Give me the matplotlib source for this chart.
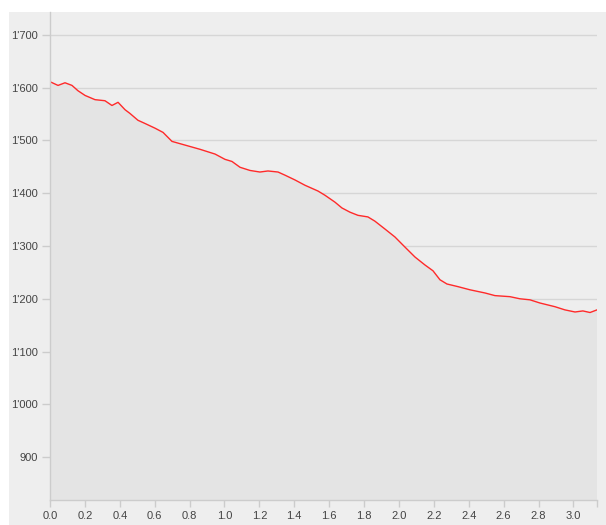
import matplotlib
matplotlib.use('Agg')

import matplotlib.pyplot as plt
from matplotlib.patches import Rectangle
from matplotlib.ticker import FuncFormatter

plt.rcParams['font.family'] = ['Liberation Sans', 'DejaVu Sans']

# distance (x) and elevation (y)
dist = [0.000, 0.046, 0.086, 0.126, 0.160, 0.201, 0.258, 0.315, 0.355, 0.390,
        0.430, 0.458, 0.504, 0.544, 0.602, 0.648, 0.699, 0.774, 0.860, 0.946,
        1.003, 1.043, 1.089, 1.146, 1.203, 1.249, 1.307, 1.347, 1.404, 1.461,
        1.536, 1.576, 1.633, 1.673, 1.719, 1.765, 1.822, 1.862, 1.920, 1.977,
        2.034, 2.092, 2.149, 2.195, 2.235, 2.275, 2.338, 2.407, 2.493, 2.550,
        2.636, 2.693, 2.751, 2.808, 2.894, 2.951, 3.009, 3.054, 3.095, 3.135]
elev = [1611, 1604, 1609, 1604, 1594, 1585, 1577, 1575, 1566, 1572,
        1558, 1551, 1538, 1532, 1523, 1515, 1498, 1491, 1483, 1474,
        1464, 1460, 1449, 1443, 1440, 1442, 1440, 1434, 1425, 1415,
        1404, 1396, 1383, 1372, 1364, 1358, 1355, 1347, 1332, 1317,
        1298, 1279, 1264, 1253, 1236, 1228, 1223, 1217, 1211, 1206,
        1204, 1200, 1198, 1192, 1185, 1179, 1175, 1177, 1174, 1179]

y_ticks = [900, 1000, 1100, 1200, 1300, 1400, 1500, 1600, 1700]
x_ticks = [0.0, 0.2, 0.4, 0.6, 0.8, 1.0, 1.2, 1.4, 1.6, 1.8, 2.0, 2.2, 2.4, 2.6, 2.8, 3.0]

W, H = 606, 525
fig = plt.figure(figsize=(W / 100, H / 100), dpi=100, facecolor='white')
fig.patches.append(Rectangle((9 / W, 0), 1, 1 - 12 / H, transform=fig.transFigure,
                             facecolor='#eeeeee', edgecolor='none', zorder=-5))

ax = fig.add_axes([50 / W, (H - 500) / H, (597 - 50) / W, (500 - 12) / H])
ax.set_facecolor('#eeeeee')

ax.fill_between(dist, elev, 0, color='#e4e4e4', zorder=2, linewidth=0)
ax.plot(dist, elev, color='#ff2a2a', linewidth=1.0, zorder=3)

ax.set_xlim(0, 3.135)
ax.set_ylim(819, 1743)
ax.set_yticks(y_ticks)
ax.set_xticks(x_ticks + [3.135])
ax.set_xticklabels(['%.1f' % t for t in x_ticks] + [''])
ax.yaxis.set_major_formatter(FuncFormatter(lambda v, p: '{:,}'.format(int(v)).replace(',', "'")))

ax.grid(axis='y', color='#d6d6d6', linewidth=1.0, zorder=1)
ax.set_axisbelow(True)
for s in ['top', 'right']:
    ax.spines[s].set_visible(False)
for s in ['left', 'bottom']:
    ax.spines[s].set_color('#cccccc')
    ax.spines[s].set_linewidth(1.0)
    ax.spines[s].set_zorder(4)
ax.tick_params(axis='both', colors='#cccccc', labelcolor='#444444', labelsize=8,
               length=6, width=1.0, pad=3)
ax.tick_params(axis='x', length=5, pad=3)

fig.savefig('out.png', dpi=100, facecolor=fig.get_facecolor())
